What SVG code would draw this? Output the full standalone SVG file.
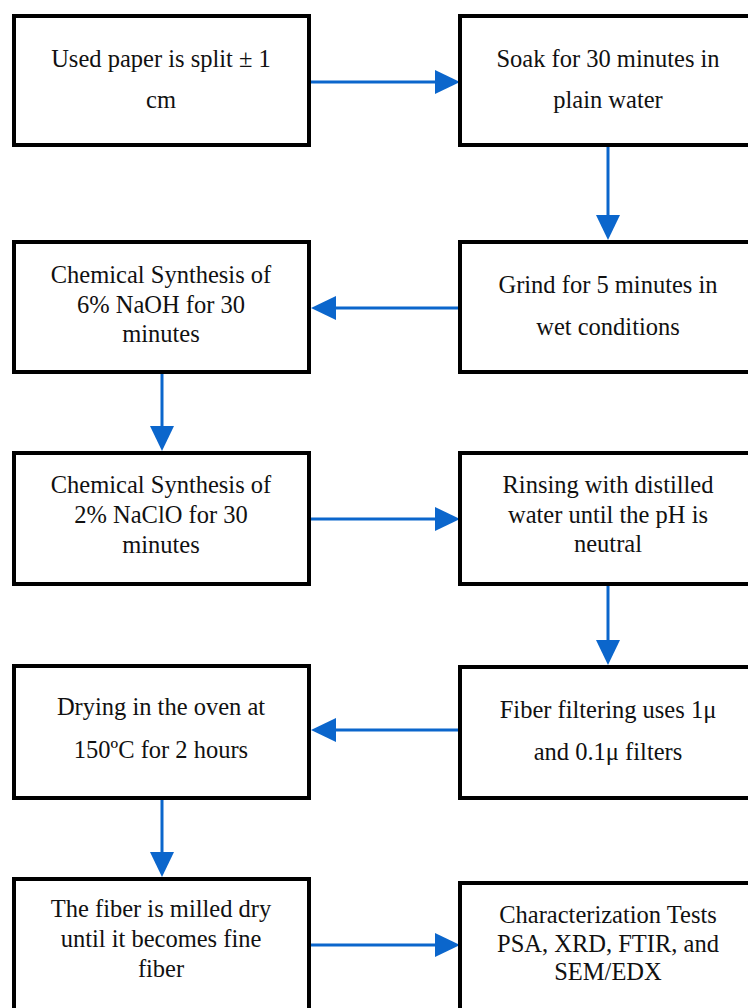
<svg xmlns="http://www.w3.org/2000/svg" width="748" height="1008" viewBox="0 0 748 1008">
<style>
.box{fill:#fff;stroke:#000;stroke-width:4}
.t{font-size:24.5px;fill:#111;text-anchor:middle}
.c{stroke:#0b66cc;stroke-width:3;fill:none}
</style>
<defs>
<marker id="ah" markerUnits="userSpaceOnUse" markerWidth="26" markerHeight="26" refX="2" refY="12" orient="auto" viewBox="0 0 26 24">
<path d="M0,0 L25,12 L0,24 z" fill="#0b66cc"/>
</marker>
</defs>
<rect width="748" height="1008" fill="#fff"/>
<g id="connectors">
<line class="c" x1="311" y1="82" x2="437" y2="82" marker-end="url(#ah)"/>
<line class="c" x1="608" y1="147" x2="608" y2="217" marker-end="url(#ah)"/>
<line class="c" x1="460" y1="308" x2="334" y2="308" marker-end="url(#ah)"/>
<line class="c" x1="162" y1="374" x2="162" y2="428" marker-end="url(#ah)"/>
<line class="c" x1="311" y1="519" x2="437" y2="519" marker-end="url(#ah)"/>
<line class="c" x1="608" y1="586" x2="608" y2="642" marker-end="url(#ah)"/>
<line class="c" x1="460" y1="730" x2="334" y2="730" marker-end="url(#ah)"/>
<line class="c" x1="162" y1="800" x2="162" y2="854" marker-end="url(#ah)"/>
<line class="c" x1="311" y1="945" x2="437" y2="945" marker-end="url(#ah)"/>
</g>
<g font-family="Liberation Serif, serif">
<g id="n1">
<rect class="box" x="14" y="16" width="295" height="129"/>
<text class="t" x="161" y="67">Used paper is split ± 1</text>
<text class="t" x="161" y="108">cm</text>
</g>
<g id="n2">
<rect class="box" x="460" y="16" width="300" height="129"/>
<text class="t" x="608" y="67">Soak for 30 minutes in</text>
<text class="t" x="608" y="108">plain water</text>
</g>
<g id="n3">
<rect class="box" x="460" y="242" width="300" height="130"/>
<text class="t" x="608" y="293">Grind for 5 minutes in</text>
<text class="t" x="608" y="335">wet conditions</text>
</g>
<g id="n4">
<rect class="box" x="14" y="242" width="295" height="130"/>
<text class="t" x="161" y="283">Chemical Synthesis of</text>
<text class="t" x="161" y="313">6% NaOH for 30</text>
<text class="t" x="161" y="342">minutes</text>
</g>
<g id="n5">
<rect class="box" x="14" y="453" width="295" height="131"/>
<text class="t" x="161" y="493">Chemical Synthesis of</text>
<text class="t" x="161" y="523">2% NaClO for 30</text>
<text class="t" x="161" y="553">minutes</text>
</g>
<g id="n6">
<rect class="box" x="460" y="453" width="300" height="131"/>
<text class="t" x="608" y="493">Rinsing with distilled</text>
<text class="t" x="608" y="523">water until the pH is</text>
<text class="t" x="608" y="552">neutral</text>
</g>
<g id="n7">
<rect class="box" x="460" y="667" width="300" height="131"/>
<text class="t" x="608" y="718">Fiber filtering uses 1μ</text>
<text class="t" x="608" y="760">and 0.1μ filters</text>
</g>
<g id="n8">
<rect class="box" x="14" y="666" width="295" height="132"/>
<text class="t" x="161" y="715">Drying in the oven at</text>
<text class="t" x="161" y="758">150ºC for 2 hours</text>
</g>
<g id="n9">
<rect class="box" x="14" y="879" width="295" height="140"/>
<text class="t" x="161" y="917">The fiber is milled dry</text>
<text class="t" x="161" y="947">until it becomes fine</text>
<text class="t" x="161" y="977">fiber</text>
</g>
<g id="n10">
<rect class="box" x="460" y="883" width="300" height="140"/>
<text class="t" x="608" y="923">Characterization Tests</text>
<text class="t" x="608" y="952">PSA, XRD, FTIR, and</text>
<text class="t" x="608" y="980">SEM/EDX</text>
</g>
</g>
</svg>
